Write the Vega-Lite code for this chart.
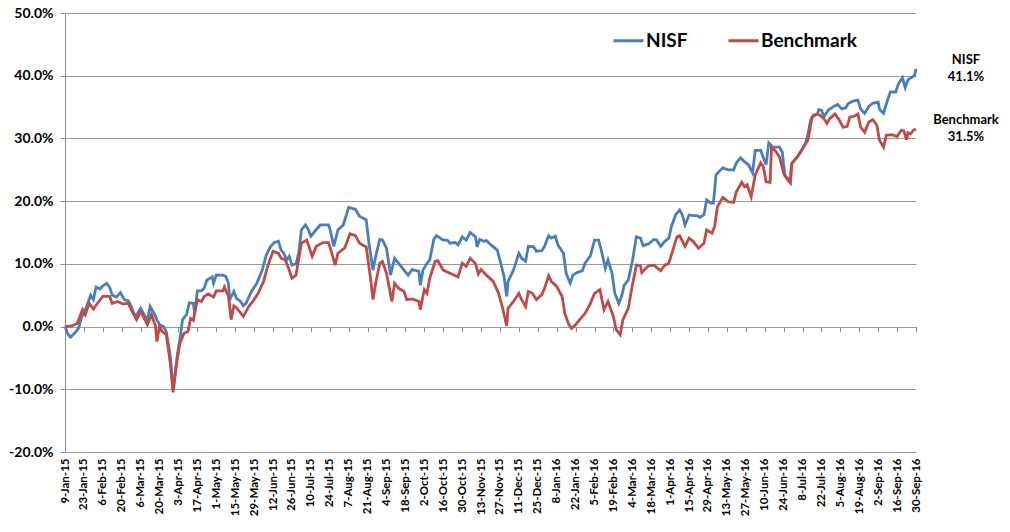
{
  "$schema": "https://vega.github.io/schema/vega-lite/v6.json",
  "width": 851,
  "height": 439,
  "autosize": {"type": "none"},
  "padding": {"left": 65, "top": 13, "right": 94, "bottom": 80},
  "background": "white",
  "config": {
    "view": {"stroke": null},
    "font": "Lato",
    "axis": {
      "labelFont": "Lato",
      "labelFontWeight": "bold",
      "labelColor": "black",
      "domainColor": "#8c8c8c",
      "tickColor": "#8c8c8c",
      "gridColor": "#9a9a9a",
      "title": null
    }
  },
  "datasets": {
    "returns": [
      {"date": "2015-01-09", "series": "NISF", "value": 0},
      {"date": "2015-01-11", "series": "NISF", "value": -1.1},
      {"date": "2015-01-13", "series": "NISF", "value": -1.7},
      {"date": "2015-01-16", "series": "NISF", "value": -1.1},
      {"date": "2015-01-19", "series": "NISF", "value": -0.3},
      {"date": "2015-01-21", "series": "NISF", "value": 1.3},
      {"date": "2015-01-25", "series": "NISF", "value": 3.2},
      {"date": "2015-01-28", "series": "NISF", "value": 5.0},
      {"date": "2015-01-30", "series": "NISF", "value": 4.3},
      {"date": "2015-02-01", "series": "NISF", "value": 6.3},
      {"date": "2015-02-04", "series": "NISF", "value": 6.0},
      {"date": "2015-02-06", "series": "NISF", "value": 6.5},
      {"date": "2015-02-09", "series": "NISF", "value": 6.9},
      {"date": "2015-02-11", "series": "NISF", "value": 6.3},
      {"date": "2015-02-13", "series": "NISF", "value": 5.0},
      {"date": "2015-02-16", "series": "NISF", "value": 4.7},
      {"date": "2015-02-19", "series": "NISF", "value": 5.4},
      {"date": "2015-02-22", "series": "NISF", "value": 4.3},
      {"date": "2015-02-25", "series": "NISF", "value": 4.1},
      {"date": "2015-02-27", "series": "NISF", "value": 3.2},
      {"date": "2015-03-02", "series": "NISF", "value": 1.6},
      {"date": "2015-03-04", "series": "NISF", "value": 2.2},
      {"date": "2015-03-06", "series": "NISF", "value": 2.9},
      {"date": "2015-03-08", "series": "NISF", "value": 2.1},
      {"date": "2015-03-11", "series": "NISF", "value": 1.0},
      {"date": "2015-03-13", "series": "NISF", "value": 3.2},
      {"date": "2015-03-16", "series": "NISF", "value": 2.1},
      {"date": "2015-03-18", "series": "NISF", "value": 1.1},
      {"date": "2015-03-20", "series": "NISF", "value": 0.3},
      {"date": "2015-03-23", "series": "NISF", "value": 0.0},
      {"date": "2015-03-25", "series": "NISF", "value": -0.8},
      {"date": "2015-03-28", "series": "NISF", "value": -4.8},
      {"date": "2015-03-30", "series": "NISF", "value": -10.1},
      {"date": "2015-04-02", "series": "NISF", "value": -4.8},
      {"date": "2015-04-04", "series": "NISF", "value": -2.1},
      {"date": "2015-04-06", "series": "NISF", "value": 1.1},
      {"date": "2015-04-09", "series": "NISF", "value": 1.9},
      {"date": "2015-04-11", "series": "NISF", "value": 3.8},
      {"date": "2015-04-14", "series": "NISF", "value": 3.7},
      {"date": "2015-04-15", "series": "NISF", "value": 2.1},
      {"date": "2015-04-17", "series": "NISF", "value": 5.7},
      {"date": "2015-04-20", "series": "NISF", "value": 5.7},
      {"date": "2015-04-22", "series": "NISF", "value": 6.1},
      {"date": "2015-04-24", "series": "NISF", "value": 7.4},
      {"date": "2015-04-28", "series": "NISF", "value": 7.9},
      {"date": "2015-04-29", "series": "NISF", "value": 6.9},
      {"date": "2015-05-01", "series": "NISF", "value": 8.2},
      {"date": "2015-05-06", "series": "NISF", "value": 8.2},
      {"date": "2015-05-08", "series": "NISF", "value": 8.0},
      {"date": "2015-05-10", "series": "NISF", "value": 6.9},
      {"date": "2015-05-11", "series": "NISF", "value": 4.3},
      {"date": "2015-05-14", "series": "NISF", "value": 5.6},
      {"date": "2015-05-16", "series": "NISF", "value": 4.5},
      {"date": "2015-05-19", "series": "NISF", "value": 4.0},
      {"date": "2015-05-21", "series": "NISF", "value": 3.3},
      {"date": "2015-05-23", "series": "NISF", "value": 3.7},
      {"date": "2015-05-27", "series": "NISF", "value": 5.6},
      {"date": "2015-05-31", "series": "NISF", "value": 6.9},
      {"date": "2015-06-04", "series": "NISF", "value": 9.0},
      {"date": "2015-06-07", "series": "NISF", "value": 11.4},
      {"date": "2015-06-10", "series": "NISF", "value": 12.7},
      {"date": "2015-06-13", "series": "NISF", "value": 13.4},
      {"date": "2015-06-16", "series": "NISF", "value": 13.6},
      {"date": "2015-06-18", "series": "NISF", "value": 12.2},
      {"date": "2015-06-20", "series": "NISF", "value": 11.7},
      {"date": "2015-06-22", "series": "NISF", "value": 10.6},
      {"date": "2015-06-24", "series": "NISF", "value": 11.2},
      {"date": "2015-06-26", "series": "NISF", "value": 9.8},
      {"date": "2015-06-29", "series": "NISF", "value": 10.0},
      {"date": "2015-07-01", "series": "NISF", "value": 11.7},
      {"date": "2015-07-03", "series": "NISF", "value": 15.4},
      {"date": "2015-07-06", "series": "NISF", "value": 16.2},
      {"date": "2015-07-08", "series": "NISF", "value": 15.5},
      {"date": "2015-07-10", "series": "NISF", "value": 14.4},
      {"date": "2015-07-13", "series": "NISF", "value": 15.2},
      {"date": "2015-07-17", "series": "NISF", "value": 16.2},
      {"date": "2015-07-23", "series": "NISF", "value": 16.2},
      {"date": "2015-07-24", "series": "NISF", "value": 15.7},
      {"date": "2015-07-27", "series": "NISF", "value": 12.8},
      {"date": "2015-07-30", "series": "NISF", "value": 15.4},
      {"date": "2015-08-03", "series": "NISF", "value": 16.2},
      {"date": "2015-08-07", "series": "NISF", "value": 19.0},
      {"date": "2015-08-12", "series": "NISF", "value": 18.7},
      {"date": "2015-08-15", "series": "NISF", "value": 17.6},
      {"date": "2015-08-20", "series": "NISF", "value": 17.0},
      {"date": "2015-08-22", "series": "NISF", "value": 13.3},
      {"date": "2015-08-25", "series": "NISF", "value": 9.0},
      {"date": "2015-08-27", "series": "NISF", "value": 11.2},
      {"date": "2015-08-30", "series": "NISF", "value": 13.9},
      {"date": "2015-09-01", "series": "NISF", "value": 13.8},
      {"date": "2015-09-04", "series": "NISF", "value": 12.5},
      {"date": "2015-09-07", "series": "NISF", "value": 8.2},
      {"date": "2015-09-10", "series": "NISF", "value": 10.9},
      {"date": "2015-09-14", "series": "NISF", "value": 9.8},
      {"date": "2015-09-17", "series": "NISF", "value": 9.0},
      {"date": "2015-09-20", "series": "NISF", "value": 8.2},
      {"date": "2015-09-23", "series": "NISF", "value": 9.1},
      {"date": "2015-09-28", "series": "NISF", "value": 8.8},
      {"date": "2015-09-29", "series": "NISF", "value": 6.6},
      {"date": "2015-10-01", "series": "NISF", "value": 9.0},
      {"date": "2015-10-04", "series": "NISF", "value": 10.1},
      {"date": "2015-10-06", "series": "NISF", "value": 10.6},
      {"date": "2015-10-09", "series": "NISF", "value": 13.9},
      {"date": "2015-10-11", "series": "NISF", "value": 14.5},
      {"date": "2015-10-16", "series": "NISF", "value": 13.8},
      {"date": "2015-10-19", "series": "NISF", "value": 13.8},
      {"date": "2015-10-21", "series": "NISF", "value": 13.3},
      {"date": "2015-10-25", "series": "NISF", "value": 13.4},
      {"date": "2015-10-27", "series": "NISF", "value": 13.0},
      {"date": "2015-10-30", "series": "NISF", "value": 14.3},
      {"date": "2015-11-02", "series": "NISF", "value": 13.8},
      {"date": "2015-11-05", "series": "NISF", "value": 15.0},
      {"date": "2015-11-09", "series": "NISF", "value": 14.3},
      {"date": "2015-11-10", "series": "NISF", "value": 12.7},
      {"date": "2015-11-12", "series": "NISF", "value": 13.9},
      {"date": "2015-11-15", "series": "NISF", "value": 13.6},
      {"date": "2015-11-17", "series": "NISF", "value": 13.7},
      {"date": "2015-11-21", "series": "NISF", "value": 12.9},
      {"date": "2015-11-25", "series": "NISF", "value": 12.2},
      {"date": "2015-11-27", "series": "NISF", "value": 10.6},
      {"date": "2015-11-30", "series": "NISF", "value": 8.0},
      {"date": "2015-12-02", "series": "NISF", "value": 4.8},
      {"date": "2015-12-03", "series": "NISF", "value": 7.2},
      {"date": "2015-12-07", "series": "NISF", "value": 9.0},
      {"date": "2015-12-11", "series": "NISF", "value": 11.7},
      {"date": "2015-12-13", "series": "NISF", "value": 10.9},
      {"date": "2015-12-16", "series": "NISF", "value": 10.4},
      {"date": "2015-12-18", "series": "NISF", "value": 12.8},
      {"date": "2015-12-22", "series": "NISF", "value": 12.7},
      {"date": "2015-12-24", "series": "NISF", "value": 12.0},
      {"date": "2015-12-28", "series": "NISF", "value": 12.1},
      {"date": "2015-12-30", "series": "NISF", "value": 12.8},
      {"date": "2016-01-02", "series": "NISF", "value": 14.5},
      {"date": "2016-01-04", "series": "NISF", "value": 14.1},
      {"date": "2016-01-07", "series": "NISF", "value": 14.4},
      {"date": "2016-01-09", "series": "NISF", "value": 13.0},
      {"date": "2016-01-13", "series": "NISF", "value": 11.7},
      {"date": "2016-01-15", "series": "NISF", "value": 8.5},
      {"date": "2016-01-18", "series": "NISF", "value": 6.9},
      {"date": "2016-01-20", "series": "NISF", "value": 8.2},
      {"date": "2016-01-23", "series": "NISF", "value": 8.6},
      {"date": "2016-01-27", "series": "NISF", "value": 8.9},
      {"date": "2016-01-29", "series": "NISF", "value": 10.1},
      {"date": "2016-02-02", "series": "NISF", "value": 11.3},
      {"date": "2016-02-05", "series": "NISF", "value": 13.8},
      {"date": "2016-02-08", "series": "NISF", "value": 13.8},
      {"date": "2016-02-10", "series": "NISF", "value": 12.2},
      {"date": "2016-02-13", "series": "NISF", "value": 9.3},
      {"date": "2016-02-15", "series": "NISF", "value": 10.6},
      {"date": "2016-02-18", "series": "NISF", "value": 8.5},
      {"date": "2016-02-20", "series": "NISF", "value": 5.3},
      {"date": "2016-02-23", "series": "NISF", "value": 3.7},
      {"date": "2016-02-25", "series": "NISF", "value": 4.8},
      {"date": "2016-02-27", "series": "NISF", "value": 6.6},
      {"date": "2016-03-01", "series": "NISF", "value": 7.4},
      {"date": "2016-03-04", "series": "NISF", "value": 10.4},
      {"date": "2016-03-07", "series": "NISF", "value": 14.3},
      {"date": "2016-03-10", "series": "NISF", "value": 14.1},
      {"date": "2016-03-12", "series": "NISF", "value": 12.9},
      {"date": "2016-03-16", "series": "NISF", "value": 13.2},
      {"date": "2016-03-20", "series": "NISF", "value": 13.9},
      {"date": "2016-03-22", "series": "NISF", "value": 13.8},
      {"date": "2016-03-25", "series": "NISF", "value": 12.8},
      {"date": "2016-03-28", "series": "NISF", "value": 13.6},
      {"date": "2016-03-31", "series": "NISF", "value": 14.1},
      {"date": "2016-04-02", "series": "NISF", "value": 16.0},
      {"date": "2016-04-05", "series": "NISF", "value": 17.8},
      {"date": "2016-04-08", "series": "NISF", "value": 18.6},
      {"date": "2016-04-10", "series": "NISF", "value": 17.8},
      {"date": "2016-04-12", "series": "NISF", "value": 16.2},
      {"date": "2016-04-15", "series": "NISF", "value": 17.8},
      {"date": "2016-04-18", "series": "NISF", "value": 17.7},
      {"date": "2016-04-21", "series": "NISF", "value": 17.7},
      {"date": "2016-04-23", "series": "NISF", "value": 17.4},
      {"date": "2016-04-26", "series": "NISF", "value": 17.8},
      {"date": "2016-04-28", "series": "NISF", "value": 20.2},
      {"date": "2016-05-01", "series": "NISF", "value": 19.7},
      {"date": "2016-05-03", "series": "NISF", "value": 19.7},
      {"date": "2016-05-05", "series": "NISF", "value": 24.2},
      {"date": "2016-05-08", "series": "NISF", "value": 24.9},
      {"date": "2016-05-10", "series": "NISF", "value": 25.3},
      {"date": "2016-05-14", "series": "NISF", "value": 25.0},
      {"date": "2016-05-18", "series": "NISF", "value": 25.0},
      {"date": "2016-05-20", "series": "NISF", "value": 26.1},
      {"date": "2016-05-23", "series": "NISF", "value": 26.9},
      {"date": "2016-05-26", "series": "NISF", "value": 26.3},
      {"date": "2016-05-29", "series": "NISF", "value": 25.8},
      {"date": "2016-06-01", "series": "NISF", "value": 24.5},
      {"date": "2016-06-03", "series": "NISF", "value": 28.1},
      {"date": "2016-06-07", "series": "NISF", "value": 28.1},
      {"date": "2016-06-09", "series": "NISF", "value": 26.9},
      {"date": "2016-06-11", "series": "NISF", "value": 25.8},
      {"date": "2016-06-13", "series": "NISF", "value": 29.3},
      {"date": "2016-06-16", "series": "NISF", "value": 28.6},
      {"date": "2016-06-21", "series": "NISF", "value": 28.6},
      {"date": "2016-06-23", "series": "NISF", "value": 27.8},
      {"date": "2016-06-25", "series": "NISF", "value": 24.0},
      {"date": "2016-06-29", "series": "NISF", "value": 23.3},
      {"date": "2016-06-30", "series": "NISF", "value": 26.0},
      {"date": "2016-07-02", "series": "NISF", "value": 26.5},
      {"date": "2016-07-06", "series": "NISF", "value": 27.6},
      {"date": "2016-07-10", "series": "NISF", "value": 29.1},
      {"date": "2016-07-12", "series": "NISF", "value": 30.7},
      {"date": "2016-07-14", "series": "NISF", "value": 32.9},
      {"date": "2016-07-16", "series": "NISF", "value": 33.7},
      {"date": "2016-07-19", "series": "NISF", "value": 33.9},
      {"date": "2016-07-20", "series": "NISF", "value": 34.6},
      {"date": "2016-07-22", "series": "NISF", "value": 34.5},
      {"date": "2016-07-24", "series": "NISF", "value": 33.5},
      {"date": "2016-07-27", "series": "NISF", "value": 34.5},
      {"date": "2016-07-31", "series": "NISF", "value": 35.1},
      {"date": "2016-08-03", "series": "NISF", "value": 35.4},
      {"date": "2016-08-06", "series": "NISF", "value": 34.7},
      {"date": "2016-08-09", "series": "NISF", "value": 34.9},
      {"date": "2016-08-11", "series": "NISF", "value": 35.6},
      {"date": "2016-08-15", "series": "NISF", "value": 36.0},
      {"date": "2016-08-18", "series": "NISF", "value": 36.1},
      {"date": "2016-08-20", "series": "NISF", "value": 34.7},
      {"date": "2016-08-23", "series": "NISF", "value": 34.0},
      {"date": "2016-08-26", "series": "NISF", "value": 35.1},
      {"date": "2016-08-29", "series": "NISF", "value": 35.6},
      {"date": "2016-09-02", "series": "NISF", "value": 35.8},
      {"date": "2016-09-03", "series": "NISF", "value": 34.6},
      {"date": "2016-09-06", "series": "NISF", "value": 34.0},
      {"date": "2016-09-08", "series": "NISF", "value": 35.5},
      {"date": "2016-09-11", "series": "NISF", "value": 37.4},
      {"date": "2016-09-15", "series": "NISF", "value": 37.4},
      {"date": "2016-09-17", "series": "NISF", "value": 38.7},
      {"date": "2016-09-20", "series": "NISF", "value": 39.7},
      {"date": "2016-09-22", "series": "NISF", "value": 38.1},
      {"date": "2016-09-24", "series": "NISF", "value": 39.3},
      {"date": "2016-09-25", "series": "NISF", "value": 39.5},
      {"date": "2016-09-28", "series": "NISF", "value": 39.9},
      {"date": "2016-09-29", "series": "NISF", "value": 40.1},
      {"date": "2016-09-30", "series": "NISF", "value": 41.1},
      {"date": "2015-01-09", "series": "Benchmark", "value": 0},
      {"date": "2015-01-14", "series": "Benchmark", "value": 0.1},
      {"date": "2015-01-18", "series": "Benchmark", "value": 0.5},
      {"date": "2015-01-20", "series": "Benchmark", "value": 1.6},
      {"date": "2015-01-22", "series": "Benchmark", "value": 2.7},
      {"date": "2015-01-24", "series": "Benchmark", "value": 1.9},
      {"date": "2015-01-27", "series": "Benchmark", "value": 3.7},
      {"date": "2015-01-30", "series": "Benchmark", "value": 2.8},
      {"date": "2015-02-03", "series": "Benchmark", "value": 4.0},
      {"date": "2015-02-06", "series": "Benchmark", "value": 4.8},
      {"date": "2015-02-11", "series": "Benchmark", "value": 4.8},
      {"date": "2015-02-13", "series": "Benchmark", "value": 3.7},
      {"date": "2015-02-17", "series": "Benchmark", "value": 4.0},
      {"date": "2015-02-21", "series": "Benchmark", "value": 3.6},
      {"date": "2015-02-25", "series": "Benchmark", "value": 3.7},
      {"date": "2015-02-27", "series": "Benchmark", "value": 2.7},
      {"date": "2015-03-03", "series": "Benchmark", "value": 1.1},
      {"date": "2015-03-06", "series": "Benchmark", "value": 2.4},
      {"date": "2015-03-08", "series": "Benchmark", "value": 1.6},
      {"date": "2015-03-11", "series": "Benchmark", "value": 0.3},
      {"date": "2015-03-14", "series": "Benchmark", "value": 1.9},
      {"date": "2015-03-17", "series": "Benchmark", "value": 0.1},
      {"date": "2015-03-18", "series": "Benchmark", "value": -2.4},
      {"date": "2015-03-20", "series": "Benchmark", "value": 0.1},
      {"date": "2015-03-22", "series": "Benchmark", "value": -0.8},
      {"date": "2015-03-25", "series": "Benchmark", "value": -1.3},
      {"date": "2015-03-28", "series": "Benchmark", "value": -5.9},
      {"date": "2015-03-30", "series": "Benchmark", "value": -10.5},
      {"date": "2015-04-02", "series": "Benchmark", "value": -5.3},
      {"date": "2015-04-04", "series": "Benchmark", "value": -2.7},
      {"date": "2015-04-07", "series": "Benchmark", "value": -1.1},
      {"date": "2015-04-10", "series": "Benchmark", "value": -0.8},
      {"date": "2015-04-12", "series": "Benchmark", "value": 1.3},
      {"date": "2015-04-14", "series": "Benchmark", "value": 1.0},
      {"date": "2015-04-17", "series": "Benchmark", "value": 4.3},
      {"date": "2015-04-20", "series": "Benchmark", "value": 4.0},
      {"date": "2015-04-22", "series": "Benchmark", "value": 4.8},
      {"date": "2015-04-25", "series": "Benchmark", "value": 5.2},
      {"date": "2015-04-29", "series": "Benchmark", "value": 4.7},
      {"date": "2015-05-01", "series": "Benchmark", "value": 5.7},
      {"date": "2015-05-06", "series": "Benchmark", "value": 5.7},
      {"date": "2015-05-07", "series": "Benchmark", "value": 6.3},
      {"date": "2015-05-10", "series": "Benchmark", "value": 4.8},
      {"date": "2015-05-12", "series": "Benchmark", "value": 1.1},
      {"date": "2015-05-14", "series": "Benchmark", "value": 3.3},
      {"date": "2015-05-16", "series": "Benchmark", "value": 3.0},
      {"date": "2015-05-21", "series": "Benchmark", "value": 1.6},
      {"date": "2015-05-25", "series": "Benchmark", "value": 3.2},
      {"date": "2015-05-28", "series": "Benchmark", "value": 4.0},
      {"date": "2015-06-01", "series": "Benchmark", "value": 5.3},
      {"date": "2015-06-05", "series": "Benchmark", "value": 7.2},
      {"date": "2015-06-08", "series": "Benchmark", "value": 9.6},
      {"date": "2015-06-12", "series": "Benchmark", "value": 12.0},
      {"date": "2015-06-16", "series": "Benchmark", "value": 11.7},
      {"date": "2015-06-18", "series": "Benchmark", "value": 10.9},
      {"date": "2015-06-21", "series": "Benchmark", "value": 10.6},
      {"date": "2015-06-23", "series": "Benchmark", "value": 9.6},
      {"date": "2015-06-26", "series": "Benchmark", "value": 7.7},
      {"date": "2015-06-29", "series": "Benchmark", "value": 8.2},
      {"date": "2015-07-03", "series": "Benchmark", "value": 13.3},
      {"date": "2015-07-07", "series": "Benchmark", "value": 13.8},
      {"date": "2015-07-11", "series": "Benchmark", "value": 11.2},
      {"date": "2015-07-14", "series": "Benchmark", "value": 12.8},
      {"date": "2015-07-19", "series": "Benchmark", "value": 13.4},
      {"date": "2015-07-23", "series": "Benchmark", "value": 13.4},
      {"date": "2015-07-24", "series": "Benchmark", "value": 12.8},
      {"date": "2015-07-28", "series": "Benchmark", "value": 9.8},
      {"date": "2015-07-30", "series": "Benchmark", "value": 11.7},
      {"date": "2015-08-04", "series": "Benchmark", "value": 12.5},
      {"date": "2015-08-08", "series": "Benchmark", "value": 14.8},
      {"date": "2015-08-12", "series": "Benchmark", "value": 14.5},
      {"date": "2015-08-15", "series": "Benchmark", "value": 13.3},
      {"date": "2015-08-20", "series": "Benchmark", "value": 12.7},
      {"date": "2015-08-23", "series": "Benchmark", "value": 8.0},
      {"date": "2015-08-25", "series": "Benchmark", "value": 4.3},
      {"date": "2015-08-27", "series": "Benchmark", "value": 6.9},
      {"date": "2015-08-30", "series": "Benchmark", "value": 10.1},
      {"date": "2015-09-01", "series": "Benchmark", "value": 10.4},
      {"date": "2015-09-04", "series": "Benchmark", "value": 8.5},
      {"date": "2015-09-08", "series": "Benchmark", "value": 4.0},
      {"date": "2015-09-10", "series": "Benchmark", "value": 6.9},
      {"date": "2015-09-13", "series": "Benchmark", "value": 6.1},
      {"date": "2015-09-17", "series": "Benchmark", "value": 5.6},
      {"date": "2015-09-19", "series": "Benchmark", "value": 4.3},
      {"date": "2015-09-23", "series": "Benchmark", "value": 4.4},
      {"date": "2015-09-28", "series": "Benchmark", "value": 4.0},
      {"date": "2015-09-29", "series": "Benchmark", "value": 2.7},
      {"date": "2015-10-02", "series": "Benchmark", "value": 5.9},
      {"date": "2015-10-04", "series": "Benchmark", "value": 5.3},
      {"date": "2015-10-06", "series": "Benchmark", "value": 7.7},
      {"date": "2015-10-10", "series": "Benchmark", "value": 10.4},
      {"date": "2015-10-12", "series": "Benchmark", "value": 10.5},
      {"date": "2015-10-16", "series": "Benchmark", "value": 9.0},
      {"date": "2015-10-21", "series": "Benchmark", "value": 8.5},
      {"date": "2015-10-25", "series": "Benchmark", "value": 8.1},
      {"date": "2015-10-27", "series": "Benchmark", "value": 7.9},
      {"date": "2015-10-30", "series": "Benchmark", "value": 10.1},
      {"date": "2015-11-02", "series": "Benchmark", "value": 9.6},
      {"date": "2015-11-05", "series": "Benchmark", "value": 10.9},
      {"date": "2015-11-09", "series": "Benchmark", "value": 10.0},
      {"date": "2015-11-11", "series": "Benchmark", "value": 8.4},
      {"date": "2015-11-13", "series": "Benchmark", "value": 9.1},
      {"date": "2015-11-17", "series": "Benchmark", "value": 8.2},
      {"date": "2015-11-22", "series": "Benchmark", "value": 7.2},
      {"date": "2015-11-26", "series": "Benchmark", "value": 5.3},
      {"date": "2015-11-29", "series": "Benchmark", "value": 2.9},
      {"date": "2015-12-02", "series": "Benchmark", "value": 0.1},
      {"date": "2015-12-03", "series": "Benchmark", "value": 2.9},
      {"date": "2015-12-07", "series": "Benchmark", "value": 4.0},
      {"date": "2015-12-11", "series": "Benchmark", "value": 5.3},
      {"date": "2015-12-13", "series": "Benchmark", "value": 4.3},
      {"date": "2015-12-16", "series": "Benchmark", "value": 3.2},
      {"date": "2015-12-18", "series": "Benchmark", "value": 5.6},
      {"date": "2015-12-21", "series": "Benchmark", "value": 5.3},
      {"date": "2015-12-24", "series": "Benchmark", "value": 4.3},
      {"date": "2015-12-28", "series": "Benchmark", "value": 5.1},
      {"date": "2015-12-30", "series": "Benchmark", "value": 6.1},
      {"date": "2016-01-02", "series": "Benchmark", "value": 8.1},
      {"date": "2016-01-04", "series": "Benchmark", "value": 7.2},
      {"date": "2016-01-08", "series": "Benchmark", "value": 6.4},
      {"date": "2016-01-12", "series": "Benchmark", "value": 4.8},
      {"date": "2016-01-14", "series": "Benchmark", "value": 2.1},
      {"date": "2016-01-17", "series": "Benchmark", "value": 0.3},
      {"date": "2016-01-19", "series": "Benchmark", "value": -0.3},
      {"date": "2016-01-22", "series": "Benchmark", "value": 0.3},
      {"date": "2016-01-25", "series": "Benchmark", "value": 1.1},
      {"date": "2016-01-29", "series": "Benchmark", "value": 2.1},
      {"date": "2016-02-02", "series": "Benchmark", "value": 3.7},
      {"date": "2016-02-05", "series": "Benchmark", "value": 5.3},
      {"date": "2016-02-09", "series": "Benchmark", "value": 5.9},
      {"date": "2016-02-12", "series": "Benchmark", "value": 2.7},
      {"date": "2016-02-15", "series": "Benchmark", "value": 4.0},
      {"date": "2016-02-19", "series": "Benchmark", "value": 1.6},
      {"date": "2016-02-21", "series": "Benchmark", "value": -0.5},
      {"date": "2016-02-24", "series": "Benchmark", "value": -1.3},
      {"date": "2016-02-26", "series": "Benchmark", "value": 1.1},
      {"date": "2016-03-01", "series": "Benchmark", "value": 2.9},
      {"date": "2016-03-04", "series": "Benchmark", "value": 6.6},
      {"date": "2016-03-07", "series": "Benchmark", "value": 9.8},
      {"date": "2016-03-10", "series": "Benchmark", "value": 9.7},
      {"date": "2016-03-11", "series": "Benchmark", "value": 8.6},
      {"date": "2016-03-14", "series": "Benchmark", "value": 9.3},
      {"date": "2016-03-16", "series": "Benchmark", "value": 9.7},
      {"date": "2016-03-20", "series": "Benchmark", "value": 9.8},
      {"date": "2016-03-25", "series": "Benchmark", "value": 8.9},
      {"date": "2016-03-28", "series": "Benchmark", "value": 9.8},
      {"date": "2016-03-31", "series": "Benchmark", "value": 10.1},
      {"date": "2016-04-03", "series": "Benchmark", "value": 12.2},
      {"date": "2016-04-06", "series": "Benchmark", "value": 14.3},
      {"date": "2016-04-08", "series": "Benchmark", "value": 14.5},
      {"date": "2016-04-12", "series": "Benchmark", "value": 12.8},
      {"date": "2016-04-15", "series": "Benchmark", "value": 14.1},
      {"date": "2016-04-18", "series": "Benchmark", "value": 13.6},
      {"date": "2016-04-22", "series": "Benchmark", "value": 12.5},
      {"date": "2016-04-26", "series": "Benchmark", "value": 13.3},
      {"date": "2016-04-28", "series": "Benchmark", "value": 15.4},
      {"date": "2016-05-02", "series": "Benchmark", "value": 14.9},
      {"date": "2016-05-04", "series": "Benchmark", "value": 16.0},
      {"date": "2016-05-06", "series": "Benchmark", "value": 19.1},
      {"date": "2016-05-10", "series": "Benchmark", "value": 20.6},
      {"date": "2016-05-14", "series": "Benchmark", "value": 19.9},
      {"date": "2016-05-18", "series": "Benchmark", "value": 19.8},
      {"date": "2016-05-20", "series": "Benchmark", "value": 21.5},
      {"date": "2016-05-24", "series": "Benchmark", "value": 23.0},
      {"date": "2016-05-26", "series": "Benchmark", "value": 22.3},
      {"date": "2016-05-28", "series": "Benchmark", "value": 22.6},
      {"date": "2016-05-31", "series": "Benchmark", "value": 20.7},
      {"date": "2016-06-03", "series": "Benchmark", "value": 24.2},
      {"date": "2016-06-07", "series": "Benchmark", "value": 26.1},
      {"date": "2016-06-09", "series": "Benchmark", "value": 25.5},
      {"date": "2016-06-11", "series": "Benchmark", "value": 23.1},
      {"date": "2016-06-14", "series": "Benchmark", "value": 23.0},
      {"date": "2016-06-15", "series": "Benchmark", "value": 28.6},
      {"date": "2016-06-18", "series": "Benchmark", "value": 28.0},
      {"date": "2016-06-21", "series": "Benchmark", "value": 27.0},
      {"date": "2016-06-24", "series": "Benchmark", "value": 24.5},
      {"date": "2016-06-27", "series": "Benchmark", "value": 23.4},
      {"date": "2016-06-29", "series": "Benchmark", "value": 22.9},
      {"date": "2016-06-30", "series": "Benchmark", "value": 26.0},
      {"date": "2016-07-04", "series": "Benchmark", "value": 27.0},
      {"date": "2016-07-08", "series": "Benchmark", "value": 28.4},
      {"date": "2016-07-11", "series": "Benchmark", "value": 29.4},
      {"date": "2016-07-12", "series": "Benchmark", "value": 29.7},
      {"date": "2016-07-14", "series": "Benchmark", "value": 32.1},
      {"date": "2016-07-15", "series": "Benchmark", "value": 33.4},
      {"date": "2016-07-19", "series": "Benchmark", "value": 33.9},
      {"date": "2016-07-21", "series": "Benchmark", "value": 33.7},
      {"date": "2016-07-24", "series": "Benchmark", "value": 33.1},
      {"date": "2016-07-26", "series": "Benchmark", "value": 32.4},
      {"date": "2016-07-28", "series": "Benchmark", "value": 33.1},
      {"date": "2016-08-01", "series": "Benchmark", "value": 33.9},
      {"date": "2016-08-04", "series": "Benchmark", "value": 33.0},
      {"date": "2016-08-07", "series": "Benchmark", "value": 31.8},
      {"date": "2016-08-10", "series": "Benchmark", "value": 31.9},
      {"date": "2016-08-12", "series": "Benchmark", "value": 33.4},
      {"date": "2016-08-15", "series": "Benchmark", "value": 33.5},
      {"date": "2016-08-18", "series": "Benchmark", "value": 33.9},
      {"date": "2016-08-20", "series": "Benchmark", "value": 31.8},
      {"date": "2016-08-23", "series": "Benchmark", "value": 31.0},
      {"date": "2016-08-26", "series": "Benchmark", "value": 32.6},
      {"date": "2016-08-29", "series": "Benchmark", "value": 33.0},
      {"date": "2016-09-01", "series": "Benchmark", "value": 32.1},
      {"date": "2016-09-03", "series": "Benchmark", "value": 29.7},
      {"date": "2016-09-06", "series": "Benchmark", "value": 28.6},
      {"date": "2016-09-08", "series": "Benchmark", "value": 30.5},
      {"date": "2016-09-12", "series": "Benchmark", "value": 30.6},
      {"date": "2016-09-16", "series": "Benchmark", "value": 30.3},
      {"date": "2016-09-19", "series": "Benchmark", "value": 31.3},
      {"date": "2016-09-21", "series": "Benchmark", "value": 31.2},
      {"date": "2016-09-23", "series": "Benchmark", "value": 29.8},
      {"date": "2016-09-24", "series": "Benchmark", "value": 30.9},
      {"date": "2016-09-26", "series": "Benchmark", "value": 30.7},
      {"date": "2016-09-28", "series": "Benchmark", "value": 31.3},
      {"date": "2016-09-30", "series": "Benchmark", "value": 31.5}
    ],
    "ends": [
      {"date": "2016-09-30", "series": "NISF", "value": 41.1, "label": "41.1%"},
      {"date": "2016-09-30", "series": "Benchmark", "value": 31.5, "label": "31.5%"}
    ]
  },
  "layer": [
    {
      "data": {"name": "returns"},
      "mark": {"type": "line", "strokeWidth": 2.8},
      "encoding": {
        "x": {
          "field": "date",
          "type": "temporal",
          "scale": {
            "type": "utc",
            "domain": [
              {"year": 2015, "month": 1, "date": 9, "utc": true},
              {"year": 2016, "month": 9, "date": 30, "utc": true}
            ]
          },
          "axis": {
            "orient": "bottom",
            "values": [
              {"year": 2015, "month": 1, "date": 9, "utc": true},
              {"year": 2015, "month": 1, "date": 23, "utc": true},
              {"year": 2015, "month": 2, "date": 6, "utc": true},
              {"year": 2015, "month": 2, "date": 20, "utc": true},
              {"year": 2015, "month": 3, "date": 6, "utc": true},
              {"year": 2015, "month": 3, "date": 20, "utc": true},
              {"year": 2015, "month": 4, "date": 3, "utc": true},
              {"year": 2015, "month": 4, "date": 17, "utc": true},
              {"year": 2015, "month": 5, "date": 1, "utc": true},
              {"year": 2015, "month": 5, "date": 15, "utc": true},
              {"year": 2015, "month": 5, "date": 29, "utc": true},
              {"year": 2015, "month": 6, "date": 12, "utc": true},
              {"year": 2015, "month": 6, "date": 26, "utc": true},
              {"year": 2015, "month": 7, "date": 10, "utc": true},
              {"year": 2015, "month": 7, "date": 24, "utc": true},
              {"year": 2015, "month": 8, "date": 7, "utc": true},
              {"year": 2015, "month": 8, "date": 21, "utc": true},
              {"year": 2015, "month": 9, "date": 4, "utc": true},
              {"year": 2015, "month": 9, "date": 18, "utc": true},
              {"year": 2015, "month": 10, "date": 2, "utc": true},
              {"year": 2015, "month": 10, "date": 16, "utc": true},
              {"year": 2015, "month": 10, "date": 30, "utc": true},
              {"year": 2015, "month": 11, "date": 13, "utc": true},
              {"year": 2015, "month": 11, "date": 27, "utc": true},
              {"year": 2015, "month": 12, "date": 11, "utc": true},
              {"year": 2015, "month": 12, "date": 25, "utc": true},
              {"year": 2016, "month": 1, "date": 8, "utc": true},
              {"year": 2016, "month": 1, "date": 22, "utc": true},
              {"year": 2016, "month": 2, "date": 5, "utc": true},
              {"year": 2016, "month": 2, "date": 19, "utc": true},
              {"year": 2016, "month": 3, "date": 4, "utc": true},
              {"year": 2016, "month": 3, "date": 18, "utc": true},
              {"year": 2016, "month": 4, "date": 1, "utc": true},
              {"year": 2016, "month": 4, "date": 15, "utc": true},
              {"year": 2016, "month": 4, "date": 29, "utc": true},
              {"year": 2016, "month": 5, "date": 13, "utc": true},
              {"year": 2016, "month": 5, "date": 27, "utc": true},
              {"year": 2016, "month": 6, "date": 10, "utc": true},
              {"year": 2016, "month": 6, "date": 24, "utc": true},
              {"year": 2016, "month": 7, "date": 8, "utc": true},
              {"year": 2016, "month": 7, "date": 22, "utc": true},
              {"year": 2016, "month": 8, "date": 5, "utc": true},
              {"year": 2016, "month": 8, "date": 19, "utc": true},
              {"year": 2016, "month": 9, "date": 2, "utc": true},
              {"year": 2016, "month": 9, "date": 16, "utc": true},
              {"year": 2016, "month": 9, "date": 30, "utc": true}
            ],
            "format": "%-d-%b-%y",
            "labelAngle": 270,
            "labelAlign": "right",
            "labelBaseline": "middle",
            "labelFontSize": 11.5,
            "labelPadding": 6,
            "labelOverlap": false,
            "labelFlush": false,
            "ticks": false,
            "domain": false,
            "grid": false
          }
        },
        "y": {
          "field": "value",
          "type": "quantitative",
          "scale": {"domain": [-20, 50], "nice": false, "zero": false},
          "axis": {
            "values": [-20, -10, 0, 10, 20, 30, 40, 50],
            "labelExpr": "(datum.value < 0 ? '-' : '') + format(abs(datum.value), '.1f') + '%'",
            "labelFontSize": 14,
            "labelPadding": 7,
            "tickSize": 5,
            "grid": true,
            "domain": true
          }
        },
        "color": {
          "field": "series",
          "type": "nominal",
          "scale": {"domain": ["NISF", "Benchmark"], "range": ["#4A7EBB", "#BE4B48"]},
          "legend": {
            "orient": "none",
            "legendX": 547,
            "legendY": 11,
            "direction": "horizontal",
            "title": null,
            "symbolType": "stroke",
            "symbolSize": 900,
            "symbolStrokeWidth": 3,
            "labelFont": "Lato",
            "labelFontSize": 19,
            "labelFontWeight": "bold",
            "labelColor": "black",
            "labelOffset": 1,
            "columnPadding": 34
          }
        }
      }
    },
    {
      "data": {"name": "ends"},
      "mark": {"type": "text", "dx": 50, "dy": -9, "fontSize": 13, "fontWeight": "bold", "font": "Lato", "color": "black", "align": "center"},
      "encoding": {
        "x": {
          "field": "date",
          "type": "temporal",
          "axis": {
            "orient": "bottom",
            "offset": -125.4,
            "values": [
              {"year": 2015, "month": 1, "date": 9, "utc": true},
              {"year": 2015, "month": 1, "date": 23, "utc": true},
              {"year": 2015, "month": 2, "date": 6, "utc": true},
              {"year": 2015, "month": 2, "date": 20, "utc": true},
              {"year": 2015, "month": 3, "date": 6, "utc": true},
              {"year": 2015, "month": 3, "date": 20, "utc": true},
              {"year": 2015, "month": 4, "date": 3, "utc": true},
              {"year": 2015, "month": 4, "date": 17, "utc": true},
              {"year": 2015, "month": 5, "date": 1, "utc": true},
              {"year": 2015, "month": 5, "date": 15, "utc": true},
              {"year": 2015, "month": 5, "date": 29, "utc": true},
              {"year": 2015, "month": 6, "date": 12, "utc": true},
              {"year": 2015, "month": 6, "date": 26, "utc": true},
              {"year": 2015, "month": 7, "date": 10, "utc": true},
              {"year": 2015, "month": 7, "date": 24, "utc": true},
              {"year": 2015, "month": 8, "date": 7, "utc": true},
              {"year": 2015, "month": 8, "date": 21, "utc": true},
              {"year": 2015, "month": 9, "date": 4, "utc": true},
              {"year": 2015, "month": 9, "date": 18, "utc": true},
              {"year": 2015, "month": 10, "date": 2, "utc": true},
              {"year": 2015, "month": 10, "date": 16, "utc": true},
              {"year": 2015, "month": 10, "date": 30, "utc": true},
              {"year": 2015, "month": 11, "date": 13, "utc": true},
              {"year": 2015, "month": 11, "date": 27, "utc": true},
              {"year": 2015, "month": 12, "date": 11, "utc": true},
              {"year": 2015, "month": 12, "date": 25, "utc": true},
              {"year": 2016, "month": 1, "date": 8, "utc": true},
              {"year": 2016, "month": 1, "date": 22, "utc": true},
              {"year": 2016, "month": 2, "date": 5, "utc": true},
              {"year": 2016, "month": 2, "date": 19, "utc": true},
              {"year": 2016, "month": 3, "date": 4, "utc": true},
              {"year": 2016, "month": 3, "date": 18, "utc": true},
              {"year": 2016, "month": 4, "date": 1, "utc": true},
              {"year": 2016, "month": 4, "date": 15, "utc": true},
              {"year": 2016, "month": 4, "date": 29, "utc": true},
              {"year": 2016, "month": 5, "date": 13, "utc": true},
              {"year": 2016, "month": 5, "date": 27, "utc": true},
              {"year": 2016, "month": 6, "date": 10, "utc": true},
              {"year": 2016, "month": 6, "date": 24, "utc": true},
              {"year": 2016, "month": 7, "date": 8, "utc": true},
              {"year": 2016, "month": 7, "date": 22, "utc": true},
              {"year": 2016, "month": 8, "date": 5, "utc": true},
              {"year": 2016, "month": 8, "date": 19, "utc": true},
              {"year": 2016, "month": 9, "date": 2, "utc": true},
              {"year": 2016, "month": 9, "date": 16, "utc": true},
              {"year": 2016, "month": 9, "date": 30, "utc": true}
            ],
            "labels": false,
            "ticks": true,
            "tickSize": 5,
            "domain": false,
            "grid": false
          }
        },
        "y": {"field": "value", "type": "quantitative"},
        "text": {"field": "series"}
      }
    },
    {
      "data": {"name": "ends"},
      "mark": {"type": "text", "dx": 50, "dy": 8, "fontSize": 13, "fontWeight": "bold", "font": "Lato", "color": "black", "align": "center"},
      "encoding": {
        "x": {"field": "date", "type": "temporal", "axis": null},
        "y": {"field": "value", "type": "quantitative"},
        "text": {"field": "label"}
      }
    }
  ],
  "resolve": {"axis": {"x": "independent"}}
}
